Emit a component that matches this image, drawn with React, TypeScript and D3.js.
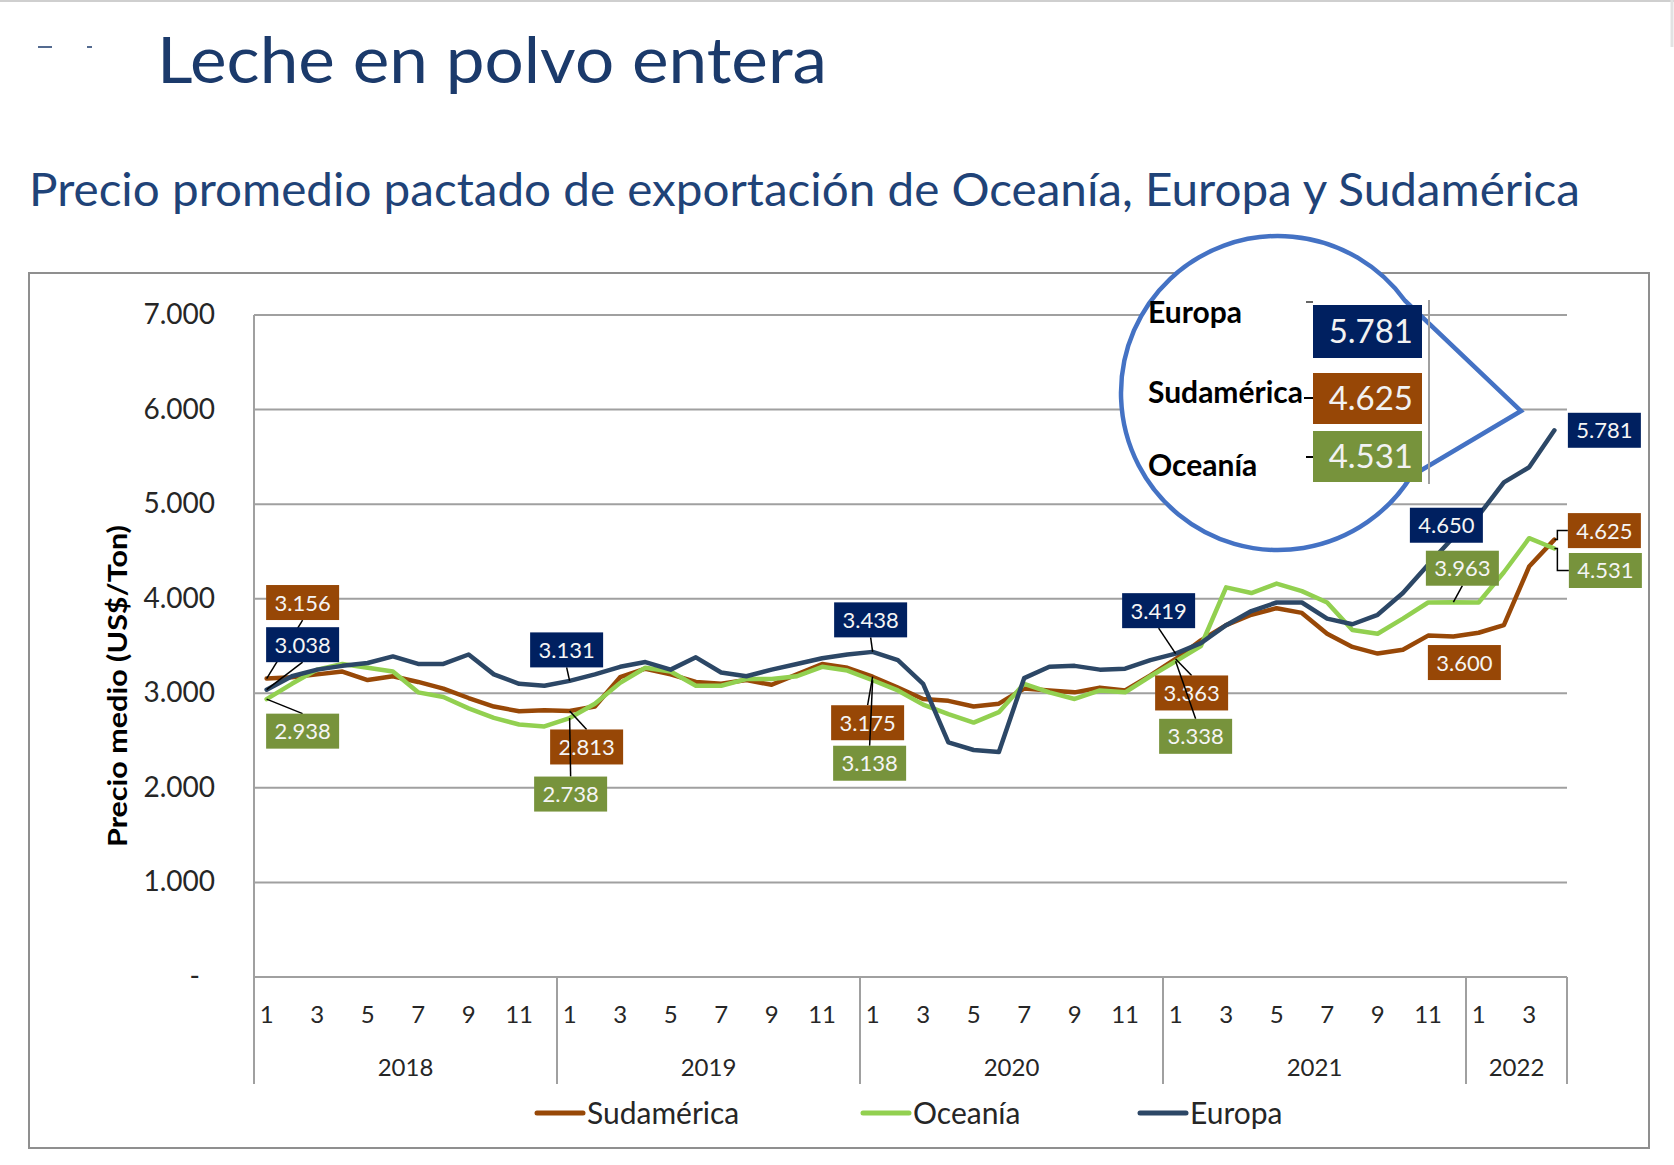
import React, { useEffect } from "react";
import * as d3 from "d3";

// ---------- DATA ----------
const years = ["2018", "2019", "2020", "2021", "2022"];
const monthsPerYear = [12, 12, 12, 12, 4];

const sudamerica = [
  3156, 3170, 3200, 3230, 3140, 3180, 3120, 3050, 2950, 2860, 2810, 2820,
  2813, 2860, 3170, 3260, 3200, 3120, 3100, 3140, 3090, 3200, 3310, 3270,
  3175, 3060, 2940, 2920, 2860, 2890, 3050, 3030, 3010, 3060, 3030, 3190,
  3363, 3560, 3720, 3830, 3900, 3850, 3630, 3490, 3420, 3460, 3610, 3600,
  3640, 3720, 4340, 4625,
];
const oceania = [
  2938, 3100, 3250, 3310, 3270, 3230, 3010, 2960, 2840, 2740, 2670, 2650,
  2738, 2890, 3110, 3270, 3230, 3080, 3080, 3150, 3150, 3180, 3280, 3240,
  3138, 3030, 2880, 2780, 2690, 2800, 3100, 3010, 2940, 3030, 3010, 3180,
  3338, 3500, 4120, 4060, 4160, 4080, 3960, 3670, 3630, 3790, 3960, 3963,
  3960, 4280, 4640, 4531,
];
const europa = [
  3038, 3180, 3250, 3290, 3320, 3390, 3310, 3310, 3410, 3200, 3100, 3080,
  3131, 3200, 3280, 3330, 3250, 3380, 3220, 3180, 3250, 3310, 3370, 3410,
  3438, 3350, 3100, 2480, 2400, 2380, 3160, 3280, 3290, 3250, 3260, 3350,
  3419, 3530, 3720, 3870, 3960, 3960, 3790, 3730, 3830, 4060, 4360, 4650,
  4880, 5230, 5390, 5781,
];
const yTicks = [0, 1000, 2000, 3000, 4000, 5000, 6000, 7000];
const seriesNames = ["Sudamérica", "Oceanía", "Europa"];
const calloutNames = ["Europa", "Sudamérica", "Oceanía"];

// labelled points: series key, month index, box offset (layout), leader type
const labelSpecs = [
  { s: "Sudamérica", i: 0, dx: 36, dy: -76, leader: "bottom" },
  { s: "Sudamérica", i: 12, dx: 17, dy: 36, leader: "top" },
  { s: "Sudamérica", i: 24, dx: -5, dy: 46, leader: "top" },
  { s: "Sudamérica", i: 36, dx: 16, dy: 34, leader: "top" },
  { s: "Sudamérica", i: 47, dx: 11, dy: 26, leader: "none" },
  { s: "Sudamérica", i: 51, dx: 50, dy: -9, leader: "elbow" },
  { s: "Oceanía", i: 0, dx: 36, dy: 32, leader: "top" },
  { s: "Oceanía", i: 12, dx: 1, dy: 76, leader: "top" },
  { s: "Oceanía", i: 24, dx: -3, dy: 83, leader: "top" },
  { s: "Oceanía", i: 36, dx: 20, dy: 75, leader: "top" },
  { s: "Oceanía", i: 47, dx: 9, dy: -34, leader: "bottom" },
  { s: "Oceanía", i: 51, dx: 51, dy: 22, leader: "elbow" },
  { s: "Europa", i: 0, dx: 36, dy: -45, leader: "bottom" },
  { s: "Europa", i: 12, dx: -3, dy: -31, leader: "bottom" },
  { s: "Europa", i: 24, dx: -2, dy: -32, leader: "bottom" },
  { s: "Europa", i: 36, dx: -17, dy: -43, leader: "bottom" },
  { s: "Europa", i: 47, dx: -7, dy: -12, leader: "none" },
  { s: "Europa", i: 51, dx: 50, dy: 0, leader: "none" },
];

// ---------- STYLE ----------
const lineColor: Record<string, string> = {
  "Sudamérica": "#984807",
  "Oceanía": "#92D050",
  "Europa": "#2C4766",
};
const boxColor: Record<string, string> = {
  "Sudamérica": "#974706",
  "Oceanía": "#77933C",
  "Europa": "#002060",
};
const seriesData: Record<string, number[]> = {
  "Sudamérica": sudamerica,
  "Oceanía": oceania,
  "Europa": europa,
};

const FONT = "Lato, 'Open Sans', 'DejaVu Sans', sans-serif";
const W = 1674;
const H = 1165;
const PL = 254, PR = 1567, PT = 315, PB = 977;

const locale = d3.formatLocale({ decimal: ",", thousands: ".", grouping: [3], currency: ["$", ""] });
const fmt = locale.format(",.0f");

export default function App() {
  useEffect(() => {
    document.body.style.margin = "0";
  }, []);

  const categories: { year: string; month: number; idx: number }[] = [];
  years.forEach((y, yi) => {
    for (let m = 1; m <= monthsPerYear[yi]; m++) categories.push({ year: y, month: m, idx: categories.length });
  });
  const n = categories.length;

  const x = d3.scaleBand<number>().domain(d3.range(n)).range([PL, PR]).padding(0);
  const bw = x.bandwidth();
  const cx = (i: number) => (x(i) as number) + bw / 2;
  const y = d3.scaleLinear().domain([0, 7000]).range([PB, PT]);

  const line = d3
    .line<number>()
    .x((_, i) => cx(i))
    .y((v) => y(v));

  const boundaries: number[] = [0];
  let acc = 0;
  monthsPerYear.forEach((m) => {
    acc += m;
    boundaries.push(acc);
  });
  const edgeX = (k: number) => (k >= n ? PR : (x(k) as number));

  const BW = 73, BH = 35;

  // callout geometry
  const cc = { x: 1278, y: 393, r: 157 };
  const tip = { x: 1521, y: 411 };
  const a1 = (-36 * Math.PI) / 180;
  const a2 = (32 * Math.PI) / 180;
  const p1 = { x: cc.x + cc.r * Math.cos(a1), y: cc.y + cc.r * Math.sin(a1) };
  const p2 = { x: cc.x + cc.r * Math.cos(a2), y: cc.y + cc.r * Math.sin(a2) };
  const calloutPath = `M${p1.x},${p1.y} A${cc.r},${cc.r} 0 1 0 ${p2.x},${p2.y} L${tip.x},${tip.y} Z`;
  const calloutRows = [
    { name: calloutNames[0], ty: 323, by: 305, bh: 53 },
    { name: calloutNames[1], ty: 403, by: 373, bh: 51 },
    { name: calloutNames[2], ty: 476, by: 431, bh: 51 },
  ];

  const legendItems = [
    { name: "Sudamérica", x: 537 },
    { name: "Oceanía", x: 863 },
    { name: "Europa", x: 1140 },
  ];

  return (
    <svg width={W} height={H} style={{ position: "absolute", left: 0, top: 0, background: "#fff" }} fontFamily={FONT}>
      <rect x={0} y={0} width={W} height={H} fill="#fff" />
      <line x1={0} y1={1} x2={W} y2={1} stroke="#cfcfcf" strokeWidth={2} />
      <line x1={1672} y1={0} x2={1672} y2={47} stroke="#e2e2e2" strokeWidth={3} />
      <line x1={38} y1={47} x2={52} y2={47} stroke="#1B3A6B" strokeWidth={1.5} />
      <line x1={87} y1={47} x2={92} y2={47} stroke="#1B3A6B" strokeWidth={1.5} />

      {/* titles */}
      <text x={157} y={83} fontSize={64} fill="#1B3A6B" textLength={670} lengthAdjust="spacingAndGlyphs">
        Leche en polvo entera
      </text>
      <text x={29} y={206} fontSize={46} fill="#1F4378" textLength={1551} lengthAdjust="spacingAndGlyphs">
        Precio promedio pactado de exportación de Oceanía, Europa y Sudamérica
      </text>

      {/* chart frame */}
      <rect x={29} y={273} width={1620} height={875} fill="#fff" stroke="#8f8f8f" strokeWidth={2} />

      {/* gridlines */}
      {yTicks.map((t) => (
        <line key={t} x1={PL} x2={PR} y1={y(t)} y2={y(t)} stroke="#a0a0a0" strokeWidth={2} />
      ))}
      {yTicks.map((t) => (
        <text key={"l" + t} x={t === 0 ? 200 : 215} y={y(t) + 9} fontSize={28} textAnchor="end" fill="#262626">
          {t === 0 ? "-" : fmt(t)}
        </text>
      ))}
      <line x1={PL} x2={PL} y1={PT} y2={PB} stroke="#a0a0a0" strokeWidth={2} />
      {boundaries.map((b, k) => (
        <line key={"b" + k} x1={edgeX(b)} x2={edgeX(b)} y1={PB} y2={1084} stroke="#a0a0a0" strokeWidth={2} />
      ))}
      {categories
        .filter((c) => c.month % 2 === 1)
        .map((c) => (
          <text key={"m" + c.idx} x={cx(c.idx)} y={1023} fontSize={24} textAnchor="middle" fill="#262626">
            {c.month}
          </text>
        ))}
      {years.map((yr, k) => (
        <text
          key={yr}
          x={(edgeX(boundaries[k]) + edgeX(boundaries[k + 1])) / 2}
          y={1076}
          fontSize={24}
          textAnchor="middle"
          fill="#262626"
        >
          {yr}
        </text>
      ))}

      <text
        transform={`translate(127,686) rotate(-90)`}
        fontSize={26}
        fontWeight={700}
        textAnchor="middle"
        fill="#000"
        textLength={322}
        lengthAdjust="spacingAndGlyphs"
      >
        Precio medio (US$/Ton)
      </text>

      {/* callout */}
      <path d={calloutPath} fill="#fff" stroke="#4472C4" strokeWidth={4.5} strokeLinejoin="miter" />
      <line x1={1429} x2={1429} y1={300} y2={484} stroke="#a0a0a0" strokeWidth={2} />
      {calloutRows.map((r) => {
        const data = seriesData[r.name];
        return (
          <g key={"c" + r.name}>
            <text x={1148} y={r.ty} fontSize={30} fontWeight={700} fill="#000">
              {r.name}
            </text>
            <rect x={1313} y={r.by} width={109} height={r.bh} fill={boxColor[r.name]} />
            <text x={1413} y={r.by + r.bh / 2 + 11} fontSize={33} textAnchor="end" fill="#f2f2f2">
              {fmt(data[data.length - 1])}
            </text>
          </g>
        );
      })}
      <line x1={1306} x2={1313} y1={302} y2={302} stroke="#666" strokeWidth={2} />
      <line x1={1304} x2={1313} y1={398} y2={398} stroke="#000" strokeWidth={2} />
      <line x1={1306} x2={1313} y1={457} y2={457} stroke="#000" strokeWidth={2} />

      {/* series lines */}
      {seriesNames.map((s) => (
        <path
          key={"p" + s}
          d={line(seriesData[s]) as string}
          fill="none"
          stroke={lineColor[s]}
          strokeWidth={4.5}
          strokeLinejoin="round"
          strokeLinecap="round"
        />
      ))}

      {/* data labels */}
      {labelSpecs.map((l, k) => {
        const v = seriesData[l.s][l.i];
        const px = cx(l.i);
        const py = y(v);
        const bcx = px + l.dx;
        const bcy = py + l.dy;
        const bx = bcx - BW / 2;
        const by = bcy - BH / 2;
        let leader: string | null = null;
        if (l.leader === "bottom") leader = `M${px},${py} L${bcx},${by + BH}`;
        if (l.leader === "top") leader = `M${px},${py} L${bcx},${by}`;
        if (l.leader === "elbow") leader = `M${px},${py} L${px + 3},${py} L${px + 3},${bcy} L${bx},${bcy}`;
        return (
          <g key={"lab" + k}>
            {leader && <path d={leader} fill="none" stroke="#000" strokeWidth={1.5} />}
            <rect x={bx} y={by} width={BW} height={BH} fill={boxColor[l.s]} />
            <text x={bcx} y={bcy + 8} fontSize={22} textAnchor="middle" fill="#f5f5f5">
              {fmt(v)}
            </text>
          </g>
        );
      })}

      {/* legend */}
      {legendItems.map((li) => (
        <g key={"lg" + li.name}>
          <line x1={li.x} x2={li.x + 46} y1={1113} y2={1113} stroke={lineColor[li.name]} strokeWidth={5} strokeLinecap="round" />
          <text x={li.x + 50} y={1124} fontSize={30} fill="#262626">
            {li.name}
          </text>
        </g>
      ))}
    </svg>
  );
}
